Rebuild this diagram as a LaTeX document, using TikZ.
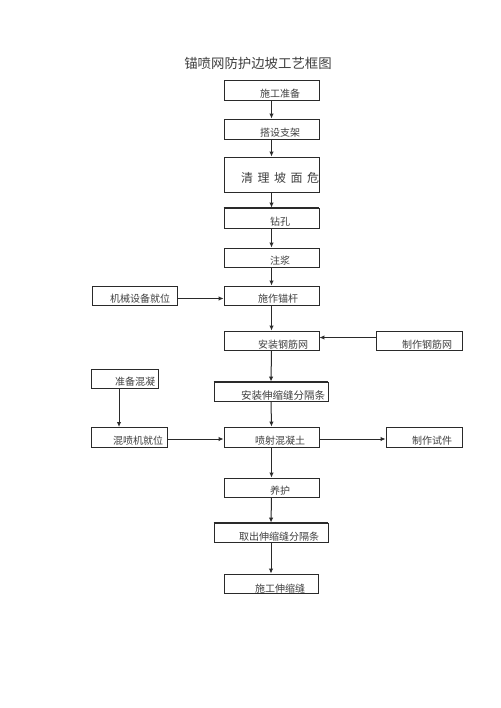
\documentclass[tikz,border=0pt]{standalone}
\usepackage{fontspec}
\setmainfont{Noto Sans CJK SC}
\usetikzlibrary{arrows.meta,calc}
\definecolor{ln}{HTML}{2a2a2a}
\definecolor{tx}{HTML}{404040}
\tikzset{
  boxst/.style={draw=ln,line width=0.9pt,rectangle,inner sep=0pt},
  txt/.style={text=tx,font=\fontsize{10}{12}\selectfont,inner sep=0pt},
  arr/.style={draw=ln,line width=1pt,-{Latex[length=5pt,width=4.5pt]}},
}
\newcommand{\bx}[7]{%
  \node[boxst,minimum width={(#3-#2)*1pt},minimum height={(#5-#4)*1pt}] (#1) at ({(#2+#3)/2},{(#4+#5)/2}) {};
  \coordinate (#1t) at (#6,#7);
}
\begin{document}
\begin{tikzpicture}[x=1pt,y=-1pt]
\useasboundingbox (0,0) rectangle (500,708);
\fill[white] (0,0) rectangle (500,708);
\node[text=tx,font=\fontsize{13.4}{15}\selectfont,inner sep=0pt] (title) at (258,63) {锚喷网防护边坡工艺框图};

\bx{b1}{224}{319}{80}{100}{280}{94}
\node[txt] (t1) at (b1t) {施工准备};
\bx{b2}{224}{319}{119}{139}{280}{133}
\node[txt] (t2) at (b2t) {搭设支架};
\bx{b3}{224}{319}{157}{192}{280}{178}
\node[txt,font=\fontsize{12}{14}\selectfont] (t3) at (b3t) {清\hspace{4.5pt}理\hspace{4.5pt}坡\hspace{4.5pt}面\hspace{4.5pt}危};
\bx{b4}{224}{319}{208}{228}{280}{222}
\node[txt] (t4) at (b4t) {钻孔};
\bx{b5}{224}{319}{248}{267}{280}{261}
\node[txt] (t5) at (b5t) {注浆};
\bx{b6}{224}{319}{286}{305}{278}{299}
\node[txt] (t6) at (b6t) {施作锚杆};
\bx{b7}{92}{177}{286}{305}{140}{299}
\node[txt] (t7) at (b7t) {机械设备就位};
\bx{b8}{224}{319}{331}{350}{283}{345}
\node[txt] (t8) at (b8t) {安装钢筋网};
\bx{b9}{376}{462}{331}{350}{427}{345}
\node[txt] (t9) at (b9t) {制作钢筋网};
\bx{b10}{91}{158}{369}{388}{135}{382}
\node[txt] (t10) at (b10t) {准备混凝};
\bx{b11}{214}{328}{382}{401}{283}{396}
\node[txt,font=\fontsize{10.5}{12}\selectfont] (t11) at (b11t) {安装伸缩缝分隔条};
\bx{b12}{91}{167}{427}{447}{138}{441}
\node[txt] (t12) at (b12t) {混喷机就位};
\bx{b13}{224}{319}{427}{447}{280}{441}
\node[txt] (t13) at (b13t) {喷射混凝土};
\bx{b14}{386}{462}{427}{447}{432}{441}
\node[txt] (t14) at (b14t) {制作试件};
\bx{b15}{224}{319}{478}{497}{280}{491}
\node[txt] (t15) at (b15t) {养护};
\bx{b16}{214}{328}{523}{542}{279}{537}
\node[txt] (t16) at (b16t) {取出伸缩缝分隔条};
\bx{b17}{224}{318}{574}{593}{280}{589}
\node[txt] (t17) at (b17t) {施工伸缩缝};

% thicker top edges
\draw[ln,line width=1.5pt] (b4.north west) -- (b4.north east);
\draw[ln,line width=1.5pt] (b11.north west) -- (b11.north east);
\draw[ln,line width=1.5pt] (b16.north west) -- (b16.north east);

% main chain
\draw[arr] (b1.south) -- (b2.north);
\draw[arr] (b2.south) -- (b3.north);
\draw[arr] (b3.south) -- (b4.north);
\draw[arr] (b4.south) -- (b5.north);
\draw[arr] (b5.south) -- (b6.north);
\draw[arr] (b6.south) -- (b8.north);
\draw[arr] (b8.south) -- (b11.north);
\draw[arr] (b11.south) -- (b13.north);
\draw[arr] (b13.south) -- (b15.north);
\draw[arr] (b15.south) -- (b16.north);
\draw[arr] (b16.south) -- (b17.north);

% side arrows
\coordinate (c10s) at (119,388);
\coordinate (c12n) at (119,427);
\draw[arr] (c10s) -- (c12n);
\draw[arr] ($(b7.east)+(0,3)$) -- ($(b6.west)+(0,3)$);
\draw[arr] ($(b9.west)+(0,-3)$) -- ($(b8.east)+(0,-3)$);
\draw[arr] ($(b12.east)+(0,2)$) -- ($(b13.west)+(0,2)$);
\draw[arr] ($(b13.east)+(0,2)$) -- ($(b14.west)+(0,2)$);
\end{tikzpicture}
\end{document}
